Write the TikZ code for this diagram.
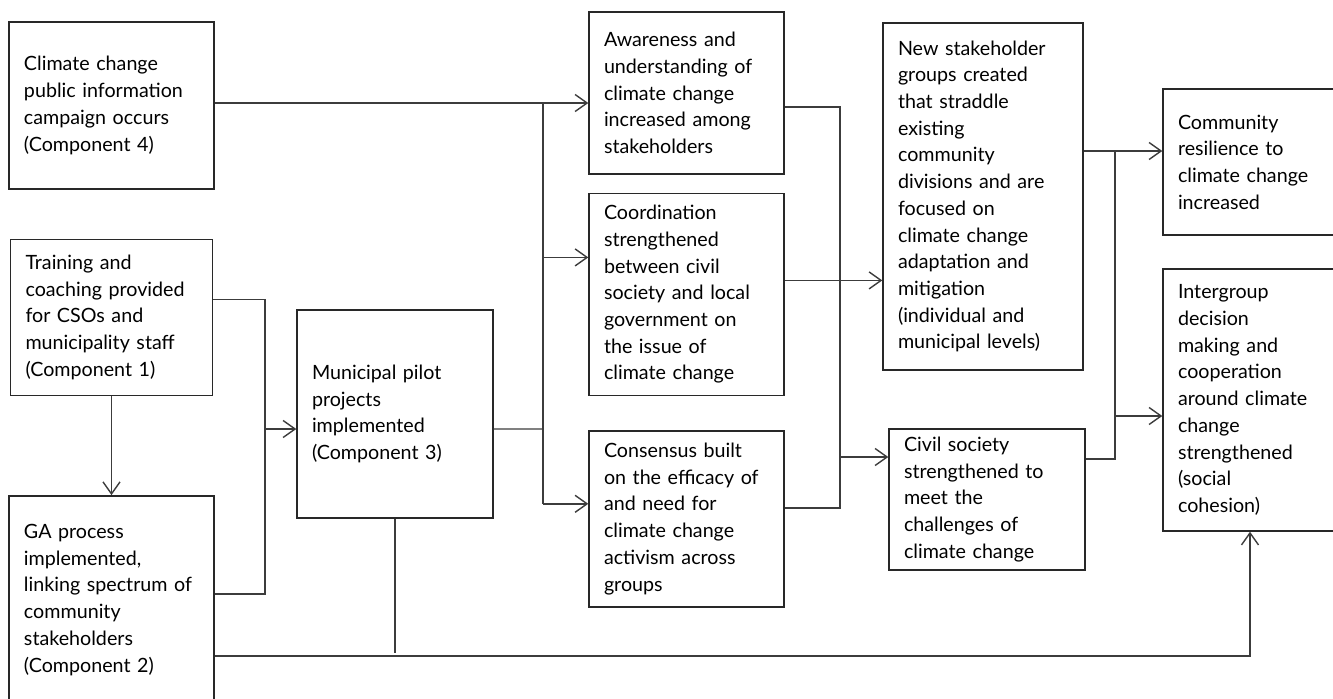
\documentclass[tikz,border=0pt]{standalone}
\usepackage{fontspec}
\setmainfont{Lato}
\usetikzlibrary{arrows.meta,positioning}
\definecolor{boxline}{RGB}{40,40,40}
\definecolor{flowline}{RGB}{60,60,60}

\begin{document}
\begin{tikzpicture}[
    box/.style={draw=boxline, rectangle, line width=0.8pt, align=left, inner xsep=0.3cm, inner ysep=0pt, font=\fontsize{11.2}{15.2}\selectfont},
    line/.style={draw=flowline, line width=0.8pt},
    arrow/.style={line, -{Straight Barb[length=2.4mm, width=3.4mm]}}
]
    \useasboundingbox (0,0) rectangle (26.66,-13.96);

    % --- Components (inputs) ---
    \node[box, text width=3.50cm, minimum height=3.34cm] (camp) at (2.23,-2.11) {Climate change\\public information\\campaign occurs\\(Component 4)};
    \node[box, text width=3.44cm, minimum height=3.12cm] (train) [below=0.98cm of camp] {Training and\\coaching provided\\for CSOs and\\municipality staff\\(Component 1)};
    \node[box, text width=3.50cm, minimum height=4.16cm] (ga) [below=1.98cm of train] {GA process\\implemented,\\linking spectrum of\\community\\stakeholders\\(Component 2)};
    \node[box, text width=3.32cm, minimum height=4.16cm] (munic) at (7.90,-8.28) {Municipal pilot\\projects\\implemented\\(Component 3)};

    % --- Short-term outcomes ---
    \node[box, text width=3.30cm, minimum height=3.24cm] (aware) at (13.73,-1.86) {Awareness and\\understanding of\\climate change\\increased among\\stakeholders};
    \node[box, text width=3.30cm, minimum height=4.04cm] (coord) [below=0.36cm of aware] {Coordination\\strengthened\\between civil\\society and local\\government on\\the issue of\\climate change};
    \node[box, text width=3.30cm, minimum height=3.52cm] (cons) [below=0.68cm of coord] {Consensus built\\on the efficacy of\\and need for\\climate change\\activism across\\groups};

    % --- Intermediate outcomes ---
    \node[box, text width=3.40cm, minimum height=6.94cm] (newsh) at (19.66,-3.93) {New stakeholder\\groups created\\that straddle\\existing\\community\\divisions and are\\focused on\\climate change\\adaptation and\\mitigation\\(individual and\\municipal levels)};
    \node[box, text width=3.32cm, minimum height=2.82cm] (civil) at (19.74,-9.99) {Civil society\\strengthened to\\meet the\\challenges of\\climate change};

    % --- Long-term outcomes ---
    \node[box, text width=3.04cm, minimum height=2.92cm] (comm) at (25.08,-3.24) {Community\\resilience to\\climate change\\increased};
    \node[box, text width=3.04cm, minimum height=5.24cm] (inter) at (25.08,-8.00) {Intergroup\\decision\\making and\\cooperation\\around climate\\change\\strengthened\\(social\\cohesion)};

    % --- Junctions ---
    \coordinate (busA) at (10.86,-8.58);
    \coordinate (busB) at (5.30,-8.58);
    \coordinate (busC) at (16.80,-9.14);
    \coordinate (busD) at (22.30,-8.32);
    \coordinate (busE) at (7.90,-13.06);
    \coordinate (awIn) at ([yshift=-0.20cm]aware.west);
    \coordinate (coIn) at ([yshift=0.74cm]coord.west);
    \coordinate (csIn) at ([yshift=0.30cm]cons.west);

    % --- Components to pilot projects ---
    \draw[arrow] (train.south) -- (train.south |- ga.north);
    \draw[line] ([yshift=0.36cm]train.east) -| (busB) |- ([yshift=0.12cm]ga.east);
    \draw[arrow] (busB) -- (busB -| munic.west);

    % --- Inputs to short-term outcomes ---
    \draw[arrow] ([yshift=0.05cm]camp.east) -- (awIn);
    \draw[line] ([yshift=-0.30cm]munic.east) -- (busA);
    \draw[line] (busA |- awIn) -- (busA |- csIn);
    \draw[arrow] (busA |- coIn) -- (coIn);
    \draw[arrow] (busA |- csIn) -- (csIn);

    % --- Short-term to intermediate ---
    \draw[line] ([yshift=-0.28cm]aware.east) -| (busC) |- ([yshift=0.22cm]cons.east);
    \draw[arrow] (busC) -- (busC -| civil.west);
    \draw[arrow] ([yshift=0.28cm]coord.east) -- ([yshift=0.28cm]coord.east -| newsh.west);

    % --- Intermediate to long-term ---
    \draw[line] ([yshift=0.91cm]newsh.east) -| (busD) |- ([yshift=0.81cm]civil.east);
    \draw[arrow] ([yshift=0.91cm]newsh.east) -- ([yshift=0.91cm]newsh.east -| comm.west);
    \draw[arrow] (busD) -- (busD -| inter.west);

    % --- Direct path to social cohesion ---
    \draw[line] (munic.south) -- (busE);
    \draw[arrow] ([yshift=-1.12cm]ga.east) -| ([xshift=-0.08cm]inter.south);

\end{tikzpicture}
\end{document}
